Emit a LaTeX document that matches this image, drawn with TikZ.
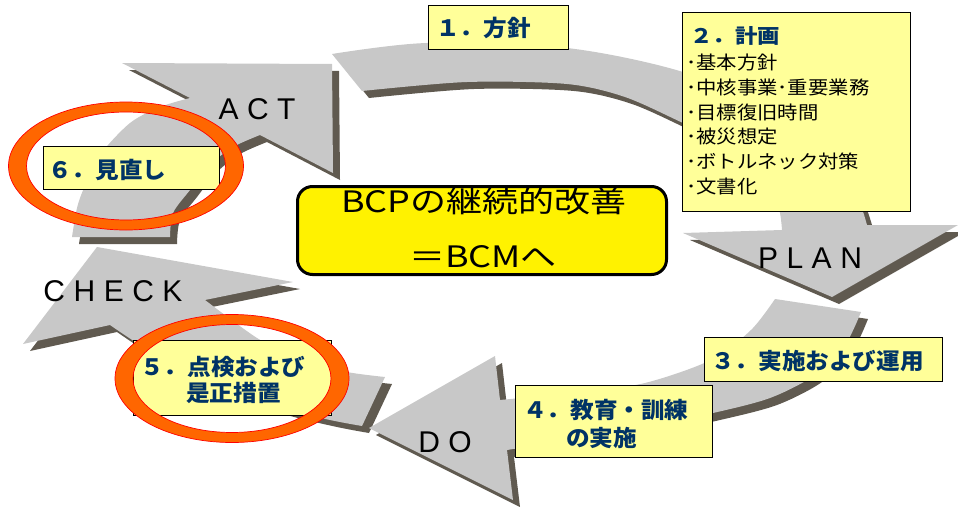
\documentclass[tikz,border=0pt]{standalone}
\usepackage{fontspec}
\setmainfont{Liberation Sans}
\newfontfamily\jpc[FakeStretch=1.22]{Noto Sans CJK JP}
\newfontfamily\jpn[FakeStretch=1.05]{Noto Sans CJK JP}
\newfontfamily\jpt[FakeStretch=1.12]{Noto Sans CJK JP}
\newfontfamily\jps[FakeStretch=1.1]{Noto Sans CJK JP}
\definecolor{arrowgray}{RGB}{200,200,200}
\definecolor{shadowc}{RGB}{96,90,80}
\definecolor{boxy}{RGB}{255,255,153}
\definecolor{navy}{RGB}{0,51,102}
\definecolor{ringo}{RGB}{255,102,0}
\newcommand\lsp{\hspace{8.5pt}}
\newcommand\pathPlan{(332,54) -- plot[smooth] coordinates {(332,54) (427,43) (567,48) (683,72) (785,115) (845,170) (867,225)} -- (958,225) -- (832,297) -- (683,233) -- plot[smooth] coordinates {(782,230) (778,205) (760,170) (730,145) (683,123) (625,97) (567,84) (467,82) (362,91)} -- cycle}
\newcommand\pathDo{(775,299) -- (861,312) -- plot[smooth] coordinates {(861,312) (845,345) (815,375) (770,398) (713,413) (640,428) (507,450)} -- (513,500) -- (369,428) -- (495,356) -- plot[smooth] coordinates {(500,400) (580,392) (645,383) (711,360) (751,330) (775,299)} -- cycle}
\newcommand\pathCheck{(385,377) -- (362,426) -- plot[smooth] coordinates {(362,426) (330,420) (280,408) (230,390) (180,368) (140,345) (110,325)} -- (23,344) -- (97,247) -- (293,282) -- plot[smooth] coordinates {(205,300) (257,338) (300,360) (347,372) (385,377)} -- cycle}
\newcommand\pathAct{(72,237) -- plot[smooth] coordinates {(72,237) (77,208) (84,188) (100,155) (130,123) (160,107) (190,98)} -- (122,63) -- (332,64) -- (333,173) -- plot[smooth] coordinates {(260,135) (233,147) (210,165) (190,190) (173,213) (170,237)} -- cycle}
\begin{document}
\begin{tikzpicture}[x=1pt,y=-1pt,
  shadowfill/.style={fill=shadowc, shift={(7,7)}},
  arrowfill/.style={fill=arrowgray},
  yellowbox/.style={draw=black, line width=1pt, fill=boxy, inner sep=0pt, outer sep=0pt},
  navylbl/.style={text=navy, inner sep=0pt, anchor=west, font=\jpn\bfseries\fontsize{22.5}{26}\selectfont},
  titlelbl/.style={text=navy, inner sep=0pt, anchor=west, font=\jpt\bfseries\fontsize{20}{23}\selectfont},
  bulletlbl/.style={text=black, inner sep=0pt, anchor=west, font=\jps\fontsize{18.5}{21}\selectfont},
  phase/.style={text=black, inner sep=0pt, font=\fontsize{30}{34}\selectfont},
  centerlbl/.style={text=black, inner sep=0pt, font=\jpc\fontsize{29.5}{34}\selectfont},
  ringfill/.style={fill=ringo, even odd rule},
  ringline/.style={draw=red, line width=0.7pt}
]
\useasboundingbox (0,0) rectangle (958,506);
\fill[white] (0,0) rectangle (958,506);
% shadows
\fill[shadowfill] \pathPlan;
\fill[shadowfill] \pathDo;
\fill[shadowfill] \pathCheck;
\fill[shadowfill] \pathAct;
% arrows
\fill[arrowfill] \pathPlan;
\fill[arrowfill] \pathDo;
\fill[arrowfill] \pathCheck;
\fill[arrowfill] \pathAct;
% phase labels
\node[phase] (act) at (257,109) {A\lsp C\lsp T};
\node[phase] (plan) at (810,258) {P\lsp L\lsp A\lsp N};
\node[phase] (do) at (445,442.5) {D\lsp O};
\node[phase] (check) at (113,291) {C\lsp H\lsp E\lsp C\lsp K};
% boxes
\node[yellowbox, minimum width=140pt, minimum height=44pt] (b1) at (498,27) {};
\node[yellowbox, minimum width=228pt, minimum height=199pt] (b2) at (796,111.5) {};
\node[yellowbox, minimum width=238pt, minimum height=44pt] (b3) at (823,359) {};
\node[yellowbox, minimum width=197pt, minimum height=72pt] (b4) at (613.5,421) {};
\node[yellowbox, minimum width=198pt, minimum height=75pt] (b5) at (232,377.5) {};
\node[yellowbox, minimum width=176pt, minimum height=43pt] (b6) at (131,167.5) {};
\node[draw=black, line width=3pt, rounded corners=15pt, fill=yellow, minimum width=369pt, minimum height=88pt, inner sep=0pt] (core) at (482,230.5) {};
% rings
\fill[ringfill] (126,166) ellipse [x radius=117.5, y radius=64] (126,166) ellipse [x radius=99.5, y radius=54];
\draw[ringline] (126,166) ellipse [x radius=117.5, y radius=64];
\draw[ringline] (126,166) ellipse [x radius=99.5, y radius=54];
\fill[ringfill] (232,378.5) ellipse [x radius=117, y radius=64] (232,378.5) ellipse [x radius=99, y radius=54];
\draw[ringline] (232,378.5) ellipse [x radius=117, y radius=64];
\draw[ringline] (232,378.5) ellipse [x radius=99, y radius=54];
% texts
\node[navylbl] (t1) at (436,28) {１．方針};
\node[titlelbl] (t2) at (690,36.3) {２．計画};
\node[bulletlbl] (t2a) at (686,62.5) {･基本方針};
\node[bulletlbl] (t2b) at (686,87.3) {･中核事業･重要業務};
\node[bulletlbl] (t2c) at (686,112.1) {･目標復旧時間};
\node[bulletlbl] (t2d) at (686,136.9) {･被災想定};
\node[bulletlbl] (t2e) at (686,161.7) {･ボトルネック対策};
\node[bulletlbl] (t2f) at (686,186.5) {･文書化};
\node[navylbl] (t3) at (711,360.8) {３．実施および運用};
\node[navylbl] (t4a) at (523,410) {４．教育・訓練};
\node[navylbl] (t4b) at (566,437.5) {の実施};
\node[navylbl] (t5a) at (140,366.7) {５．点検および};
\node[navylbl] (t5b) at (186,392.5) {是正措置};
\node[navylbl] (t6) at (48,170) {６．見直し};
\node[centerlbl] (c1) at (484,201.5) {BCPの継続的改善};
\node[centerlbl] (c2) at (483,256.5) {＝BCMへ};
\end{tikzpicture}
\end{document}
